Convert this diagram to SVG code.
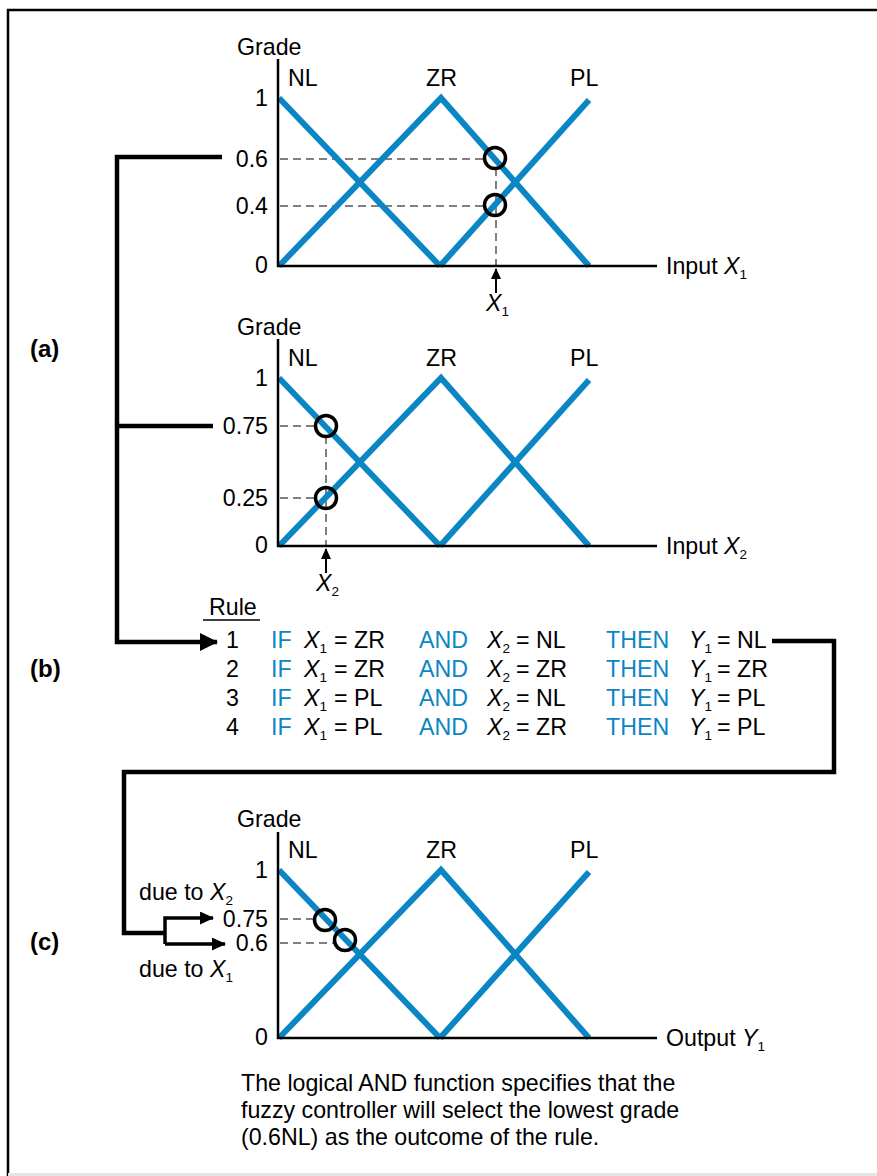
<svg xmlns="http://www.w3.org/2000/svg" width="877" height="1176" viewBox="0 0 877 1176">
<style>
text{font-family:"Liberation Sans",Arial,Helvetica,sans-serif;font-size:23.2px;fill:#000}
.r{text-anchor:end}
.bl{fill:#0a86c4}
.bold{font-weight:bold;font-size:24px}
.i{font-style:italic}
.sub{font-size:13.5px}
.mf{fill:none;stroke:#0a86c4;stroke-width:6;stroke-linejoin:miter}
.ax{fill:none;stroke:#000;stroke-width:2.5}
.dash{fill:none;stroke:#808080;stroke-width:2;stroke-dasharray:8,5}
.ring{fill:none;stroke:#000;stroke-width:3.5}
.con{fill:none;stroke:#000;stroke-width:4.5}
.con2{fill:none;stroke:#000;stroke-width:3.5}
.thin{fill:none;stroke:#000;stroke-width:2}
</style>
<defs>
<marker id="ahBig" markerUnits="userSpaceOnUse" markerWidth="18" markerHeight="18" refX="17" refY="9" orient="auto"><path d="M0,0 L18,9 L0,18 z" fill="#000"/></marker>
<marker id="ahMid" markerUnits="userSpaceOnUse" markerWidth="14" markerHeight="13" refX="13" refY="6.5" orient="auto"><path d="M0,0 L14,6.5 L0,13 z" fill="#000"/></marker>
<marker id="ahSm" markerUnits="userSpaceOnUse" markerWidth="11" markerHeight="10" refX="10" refY="5" orient="auto"><path d="M0,0 L11,5 L0,10 z" fill="#000"/></marker>
</defs>
<rect width="877" height="1176" fill="#fff"/>
<g id="frame">
<path d="M8,1176 V10 H877" fill="none" stroke="#000" stroke-width="2.5"/>
<line x1="8" y1="1174.5" x2="877" y2="1174.5" stroke="#e4e4e4" stroke-width="3"/>
</g>

<g id="labels">
<text class="bold" x="30" y="357">(a)</text>
<text class="bold" x="30" y="677">(b)</text>
<text class="bold" x="30" y="950">(c)</text>
</g>

<!-- Chart 1 -->
<g id="chart-x1">
<text x="237" y="55">Grade</text>
<text x="288" y="86">NL</text>
<text x="426" y="86">ZR</text>
<text x="570" y="86">PL</text>
<text class="r" x="268" y="106">1</text>
<text class="r" x="268" y="167">0.6</text>
<text class="r" x="268" y="214">0.4</text>
<text class="r" x="268" y="273">0</text>
<line class="dash" x1="280" y1="159" x2="486" y2="159"/>
<line class="dash" x1="280" y1="206" x2="486" y2="206"/>
<line class="dash" x1="496" y1="168" x2="496" y2="266"/>
<path class="mf" d="M279,98 L440,266"/>
<path class="mf" d="M279,266 L441,98 L589,266"/>
<path class="mf" d="M440,266 L589,100"/>
<path class="ax" d="M278,59 V266 H657"/>
<circle class="ring" cx="495" cy="158" r="10.5"/>
<circle class="ring" cx="495" cy="205" r="10.5"/>
<line class="thin" x1="496" y1="293" x2="496" y2="269" marker-end="url(#ahSm)"/>
<text x="486" y="311"><tspan class="i">X</tspan><tspan class="sub" dy="5">1</tspan></text>
<text x="666" y="274">Input <tspan class="i">X</tspan><tspan class="sub" dy="5">1</tspan></text>
</g>

<!-- Chart 2 -->
<g id="chart-x2">
<text x="237" y="335">Grade</text>
<text x="288" y="366">NL</text>
<text x="426" y="366">ZR</text>
<text x="570" y="366">PL</text>
<text class="r" x="268" y="386">1</text>
<text class="r" x="268" y="434">0.75</text>
<text class="r" x="268" y="506">0.25</text>
<text class="r" x="268" y="553">0</text>
<line class="dash" x1="280" y1="426" x2="316" y2="426"/>
<line class="dash" x1="280" y1="498" x2="316" y2="498"/>
<line class="dash" x1="326" y1="436" x2="326" y2="546"/>
<path class="mf" d="M279,378 L440,546"/>
<path class="mf" d="M279,546 L441,378 L589,546"/>
<path class="mf" d="M440,546 L589,380"/>
<path class="ax" d="M278,339 V546 H657"/>
<circle class="ring" cx="326" cy="426" r="10.5"/>
<circle class="ring" cx="326" cy="498" r="10.5"/>
<line class="thin" x1="326" y1="573" x2="326" y2="549" marker-end="url(#ahSm)"/>
<text x="316" y="591"><tspan class="i">X</tspan><tspan class="sub" dy="5">2</tspan></text>
<text x="666" y="554">Input <tspan class="i">X</tspan><tspan class="sub" dy="5">2</tspan></text>
</g>

<!-- Rules -->
<g id="rules">
<text x="209" y="615">Rule</text>
<line x1="203" y1="620" x2="260" y2="620" stroke="#000" stroke-width="1.6"/>
<g id="rule1">
<text x="226" y="648">1</text><text class="bl" x="271" y="648">IF</text>
<text x="304" y="648"><tspan class="i">X</tspan><tspan class="sub" dy="5">1</tspan></text><text x="334" y="648">= ZR</text>
<text class="bl" x="419" y="648">AND</text>
<text x="487" y="648"><tspan class="i">X</tspan><tspan class="sub" dy="5">2</tspan></text><text x="516" y="648">= NL</text>
<text class="bl" x="606" y="648">THEN</text>
<text x="689" y="648"><tspan class="i">Y</tspan><tspan class="sub" dy="5">1</tspan></text><text x="717" y="648">= NL</text>
</g>
<g id="rule2">
<text x="226" y="677">2</text><text class="bl" x="271" y="677">IF</text>
<text x="304" y="677"><tspan class="i">X</tspan><tspan class="sub" dy="5">1</tspan></text><text x="334" y="677">= ZR</text>
<text class="bl" x="419" y="677">AND</text>
<text x="487" y="677"><tspan class="i">X</tspan><tspan class="sub" dy="5">2</tspan></text><text x="516" y="677">= ZR</text>
<text class="bl" x="606" y="677">THEN</text>
<text x="689" y="677"><tspan class="i">Y</tspan><tspan class="sub" dy="5">1</tspan></text><text x="717" y="677">= ZR</text>
</g>
<g id="rule3">
<text x="226" y="706">3</text><text class="bl" x="271" y="706">IF</text>
<text x="304" y="706"><tspan class="i">X</tspan><tspan class="sub" dy="5">1</tspan></text><text x="334" y="706">= PL</text>
<text class="bl" x="419" y="706">AND</text>
<text x="487" y="706"><tspan class="i">X</tspan><tspan class="sub" dy="5">2</tspan></text><text x="516" y="706">= NL</text>
<text class="bl" x="606" y="706">THEN</text>
<text x="689" y="706"><tspan class="i">Y</tspan><tspan class="sub" dy="5">1</tspan></text><text x="717" y="706">= PL</text>
</g>
<g id="rule4">
<text x="226" y="735">4</text><text class="bl" x="271" y="735">IF</text>
<text x="304" y="735"><tspan class="i">X</tspan><tspan class="sub" dy="5">1</tspan></text><text x="334" y="735">= PL</text>
<text class="bl" x="419" y="735">AND</text>
<text x="487" y="735"><tspan class="i">X</tspan><tspan class="sub" dy="5">2</tspan></text><text x="516" y="735">= ZR</text>
<text class="bl" x="606" y="735">THEN</text>
<text x="689" y="735"><tspan class="i">Y</tspan><tspan class="sub" dy="5">1</tspan></text><text x="717" y="735">= PL</text>
</g>
</g>

<!-- Chart 3 -->
<g id="chart-y1">
<text x="237" y="827">Grade</text>
<text x="288" y="858">NL</text>
<text x="426" y="858">ZR</text>
<text x="570" y="858">PL</text>
<text class="r" x="268" y="878">1</text>
<text class="r" x="268" y="927">0.75</text>
<text class="r" x="268" y="951">0.6</text>
<text class="r" x="268" y="1045">0</text>
<line class="dash" x1="280" y1="919" x2="316" y2="919"/>
<line class="dash" x1="280" y1="943" x2="336" y2="943"/>
<path class="mf" d="M279,870 L440,1038"/>
<path class="mf" d="M279,1038 L441,870 L589,1038"/>
<path class="mf" d="M440,1038 L589,872"/>
<path class="ax" d="M278,832 V1038 H657"/>
<circle class="ring" cx="325" cy="920" r="10.5"/>
<circle class="ring" cx="345" cy="940" r="10.5"/>
<text x="666" y="1046">Output <tspan class="i">Y</tspan><tspan class="sub" dy="5">1</tspan></text>
<text x="139" y="900">due to <tspan class="i">X</tspan><tspan class="sub" dy="5">2</tspan></text>
<text x="139" y="977">due to <tspan class="i">X</tspan><tspan class="sub" dy="5">1</tspan></text>
</g>

<!-- Connectors -->
<g id="connectors">
<path class="con" d="M222,157 H117 V642 H217" marker-end="url(#ahBig)"/>
<path class="con" d="M117,426 H213"/>
<path class="con" d="M772,641 H834 V772 H124 V933 H165"/>
<path class="con2" d="M165,944 V918 H213" marker-end="url(#ahMid)"/>
<path class="con2" d="M165,944 H225" marker-end="url(#ahMid)"/>
</g>

<g id="caption">
<text x="241" y="1091">The logical AND function specifies that the</text>
<text x="241" y="1118">fuzzy controller will select the lowest grade</text>
<text x="241" y="1145">(0.6NL) as the outcome of the rule.</text>
</g>
</svg>
